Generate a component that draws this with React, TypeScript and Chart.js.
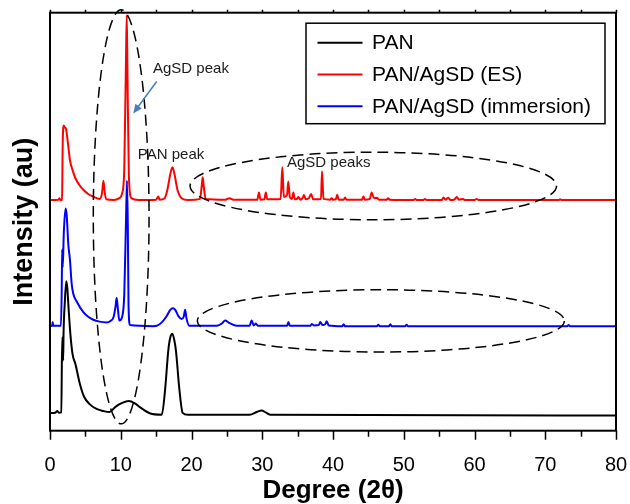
import React, { useEffect, useRef } from 'react';
import { Chart, registerables } from 'chart.js';
Chart.register(...registerables);

// ---- Data ----
const seriesLabels = ['PAN', 'PAN/AgSD (ES)', 'PAN/AgSD (immersion)'];
const seriesColors = ['#000000', '#ff0000', '#0000ff'];

const panX = [0, 0.8, 1.03, 1.25, 1.6, 1.72, 1.8, 1.86, 1.92, 2.1, 2.3, 2.45, 2.6, 2.9, 3.2, 3.6, 4.2, 4.8, 5.6, 6.5, 7.5, 8.4, 9.2, 10.2, 11.1, 12.0, 12.7, 14.1, 15.8, 16.26, 16.72, 17.0, 17.29, 17.55, 17.8, 18.28, 18.75, 19.5, 28.2, 29.3, 29.9, 30.5, 31.1, 80];
const panY = [0.06, 0.08, 0.12, 0.07, 0.08, 2.05, 1.9, 1.45, 2.2, 3.0, 3.53, 3.35, 2.9, 2.1, 1.6, 1.35, 0.85, 0.5, 0.3, 0.18, 0.12, 0.09, 0.22, 0.33, 0.38, 0.32, 0.22, 0.06, 0.02, 0.66, 1.71, 2.05, 2.15, 2.0, 1.71, 0.7, 0.07, 0.02, 0.02, 0.1, 0.13, 0.08, 0.02, 0.0];

const esX = [0, 1.2, 1.35, 1.45, 1.7, 1.8, 1.95, 2.1, 2.25, 2.45, 2.83, 3.2, 3.53, 4.1, 4.71, 5.4, 6.12, 7.0, 7.35, 7.55, 7.75, 7.95, 9.0, 9.8, 10.2, 10.5, 10.75, 10.85, 10.95, 11.15, 11.5, 12.5, 15.0, 15.3, 15.5, 16.2, 16.6, 17.0, 17.3, 17.6, 18.0, 18.6, 19.5, 21.2, 21.45, 21.58, 21.75, 22.0, 24.8, 25.35, 25.9, 29.3, 29.54, 29.75, 30.3, 30.5, 30.7, 32.6, 32.84, 33.05, 33.5, 33.68, 33.9, 34.2, 34.4, 34.6, 34.9, 35.1, 35.4, 35.7, 35.9, 36.15, 36.6, 36.9, 37.2, 38.3, 38.45, 38.65, 39.6, 39.8, 40.0, 40.4, 40.6, 40.8, 41.5, 41.7, 41.9, 44.1, 44.3, 44.5, 45.2, 45.47, 45.8, 46.2, 46.5, 47.6, 47.8, 48.0, 51.4, 51.6, 51.8, 52.8, 53.0, 53.2, 55.4, 55.6, 55.9, 56.3, 56.6, 57.2, 57.5, 57.8, 58.4, 58.6, 60.0, 60.3, 60.6, 71.9, 72.1, 72.3, 80];
const esY = [5.67, 5.68, 5.72, 5.67, 5.68, 7.2, 7.63, 7.58, 7.55, 7.3, 6.71, 6.45, 6.27, 6.08, 5.94, 5.83, 5.76, 5.7, 5.85, 6.18, 5.85, 5.69, 5.67, 5.72, 5.85, 6.5, 9.5, 10.53, 9.0, 6.3, 5.72, 5.67, 5.68, 5.76, 5.68, 5.72, 5.95, 6.35, 6.53, 6.35, 5.95, 5.72, 5.67, 5.7, 6.05, 6.27, 6.0, 5.7, 5.68, 5.72, 5.68, 5.68, 5.87, 5.68, 5.69, 5.87, 5.69, 5.7, 6.53, 5.75, 5.8, 6.16, 5.75, 5.7, 5.87, 5.69, 5.7, 5.75, 5.68, 5.72, 5.8, 5.69, 5.72, 5.83, 5.69, 5.7, 6.43, 5.7, 5.68, 5.72, 5.68, 5.69, 5.81, 5.68, 5.68, 5.74, 5.68, 5.68, 5.76, 5.68, 5.7, 5.87, 5.72, 5.73, 5.68, 5.68, 5.72, 5.68, 5.67, 5.7, 5.67, 5.67, 5.7, 5.67, 5.67, 5.74, 5.68, 5.73, 5.67, 5.69, 5.75, 5.68, 5.7, 5.67, 5.67, 5.7, 5.67, 5.67, 5.69, 5.67, 5.67];

const imX = [0, 0.3, 0.38, 0.45, 1.55, 1.65, 1.72, 1.8, 1.95, 2.2, 2.35, 2.59, 2.83, 3.06, 3.3, 3.77, 4.71, 5.4, 6.12, 7.0, 8.0, 8.5, 9.0, 9.25, 9.42, 9.6, 9.8, 10.2, 10.5, 10.75, 10.88, 11.0, 11.1, 11.3, 14.6, 15.1, 15.8, 16.5, 17.0, 17.35, 17.7, 18.2, 18.6, 18.9, 19.1, 19.3, 19.7, 23.6, 24.3, 24.75, 25.3, 26.4, 28.2, 28.5, 28.8, 29.1, 29.4, 33.5, 33.7, 33.9, 36.8, 37.0, 37.3, 38.0, 38.2, 38.5, 38.9, 39.1, 39.4, 41.3, 41.5, 41.7, 46.2, 46.4, 46.6, 47.9, 48.1, 48.3, 50.2, 50.4, 50.6, 73.1, 73.3, 73.5, 80];
const imY = [2.35, 2.36, 2.46, 2.36, 2.36, 3.2, 4.37, 3.9, 4.8, 5.45, 5.3, 4.5, 4.08, 3.47, 3.2, 3.0, 2.72, 2.6, 2.52, 2.47, 2.45, 2.48, 2.6, 2.85, 3.1, 2.8, 2.5, 2.6, 3.2, 5.2, 6.18, 5.0, 2.9, 2.38, 2.35, 2.36, 2.45, 2.62, 2.78, 2.82, 2.78, 2.6, 2.54, 2.6, 2.78, 2.55, 2.36, 2.36, 2.42, 2.5, 2.44, 2.36, 2.36, 2.5, 2.37, 2.42, 2.36, 2.36, 2.46, 2.36, 2.36, 2.41, 2.37, 2.38, 2.46, 2.38, 2.4, 2.48, 2.37, 2.35, 2.4, 2.35, 2.35, 2.39, 2.35, 2.35, 2.4, 2.35, 2.35, 2.39, 2.35, 2.35, 2.38, 2.35, 2.35];

// axis ranges / ticks
const xMin = 0, xMax = 80, xMajorStep = 10, xMinorStep = 5;
const yMin = -0.4, yMax = 10.6, yStep = 1;

// annotation shapes, in data units
const ellipses = [
  { cx: 10.06, cy: 5.23, rx: 3.94, ry: 5.45 },
  { cx: 45.7, cy: 6.04, rx: 25.9, ry: 0.89 },
  { cx: 46.76, cy: 2.49, rx: 25.94, ry: 0.82 },
];
const notes = [
  { text: 'AgSD peak', x: 14.56, y: 9.13 },
  { text: 'PAN peak', x: 12.42, y: 6.86 },
  { text: 'AgSD peaks', x: 33.5, y: 6.64 },
];
const arrow = { x1: 15.08, y1: 8.79, x2: 11.77, y2: 7.95 };

const FONT = "'Liberation Sans', Arial, Helvetica, sans-serif";

const decoPlugin = {
  id: 'deco',
  afterDraw(chart: any) {
    const { ctx, chartArea: ca, scales } = chart;
    const xs = scales.x, ys = scales.y;
    ctx.save();
    // frame
    ctx.strokeStyle = '#000';
    ctx.lineWidth = 2;
    ctx.setLineDash([]);
    ctx.strokeRect(ca.left, ca.top, ca.right - ca.left, ca.bottom - ca.top);
    // x ticks
    ctx.lineWidth = 1.5;
    for (let v = xMin; v <= xMax + 1e-9; v += xMinorStep) {
      const px = Math.round(xs.getPixelForValue(v)) + 0.5;
      const major = Math.abs(v % xMajorStep) < 1e-9;
      ctx.beginPath();
      ctx.moveTo(px, ca.bottom);
      ctx.lineTo(px, ca.bottom + (major ? 9 : 6));
      ctx.moveTo(px, ca.top);
      ctx.lineTo(px, ca.top - 3);
      ctx.stroke();
    }
    // y ticks
    ys.ticks.forEach((t: any) => {
      if (Math.abs(t.value - Math.round(t.value)) > 1e-6) return;
      const py = Math.round(ys.getPixelForValue(t.value)) + 0.5;
      ctx.beginPath();
      ctx.moveTo(ca.left, py);
      ctx.lineTo(ca.left + 4, py);
      ctx.moveTo(ca.right, py);
      ctx.lineTo(ca.right + 3, py);
      ctx.stroke();
    });
    // dashed ellipses
    ctx.setLineDash([11, 6]);
    ctx.lineWidth = 1.5;
    ctx.strokeStyle = '#000';
    ellipses.forEach((e) => {
      const cx = xs.getPixelForValue(e.cx);
      const cy = ys.getPixelForValue(e.cy);
      const rx = xs.getPixelForValue(e.cx + e.rx) - cx;
      const ry = cy - ys.getPixelForValue(e.cy + e.ry);
      ctx.beginPath();
      ctx.ellipse(cx, cy, rx, ry, 0, 0, Math.PI * 2);
      ctx.stroke();
    });
    ctx.setLineDash([]);
    // arrow
    const ax1 = xs.getPixelForValue(arrow.x1), ay1 = ys.getPixelForValue(arrow.y1);
    const ax2 = xs.getPixelForValue(arrow.x2), ay2 = ys.getPixelForValue(arrow.y2);
    const ang = Math.atan2(ay2 - ay1, ax2 - ax1);
    ctx.strokeStyle = '#4a7ebb';
    ctx.fillStyle = '#4a7ebb';
    ctx.lineWidth = 1.5;
    ctx.beginPath();
    ctx.moveTo(ax1, ay1);
    ctx.lineTo(ax2 - 6 * Math.cos(ang), ay2 - 6 * Math.sin(ang));
    ctx.stroke();
    ctx.beginPath();
    ctx.moveTo(ax2, ay2);
    ctx.lineTo(ax2 - 9 * Math.cos(ang) + 4 * Math.sin(ang), ay2 - 9 * Math.sin(ang) - 4 * Math.cos(ang));
    ctx.lineTo(ax2 - 9 * Math.cos(ang) - 4 * Math.sin(ang), ay2 - 9 * Math.sin(ang) + 4 * Math.cos(ang));
    ctx.closePath();
    ctx.fill();
    // notes
    ctx.fillStyle = '#1a1a1a';
    ctx.font = `15px ${FONT}`;
    ctx.textAlign = 'left';
    ctx.textBaseline = 'middle';
    notes.forEach((n) => {
      ctx.fillText(n.text, xs.getPixelForValue(n.x), ys.getPixelForValue(n.y));
    });
    // legend
    const bx = ca.right - 310, by = ca.top + 10.5, bw = 299, bh = 100.5;
    ctx.fillStyle = '#fff';
    ctx.fillRect(bx, by, bw, bh);
    ctx.strokeStyle = '#000';
    ctx.lineWidth = 1.5;
    ctx.strokeRect(bx, by, bw, bh);
    ctx.font = `21px ${FONT}`;
    ctx.textBaseline = 'middle';
    chart.data.datasets
      .map((d: any) => d)
      .sort((a: any, b: any) => a.legendIndex - b.legendIndex)
      .forEach((d: any, i: number) => {
        const ry = by + 19.5 + i * 31.8;
        ctx.strokeStyle = d.borderColor;
        ctx.lineWidth = 2;
        ctx.beginPath();
        ctx.moveTo(bx + 11.5, ry);
        ctx.lineTo(bx + 56.5, ry);
        ctx.stroke();
        ctx.fillStyle = '#000';
        ctx.fillText(d.label, bx + 66, ry + 0.5);
      });
    ctx.restore();
  },
};

function toPoints(xs: number[], ys: number[]) {
  return xs.map((x, i) => ({ x, y: ys[i] }));
}

export default function App() {
  const ref = useRef<HTMLCanvasElement | null>(null);
  useEffect(() => {
    if (!ref.current) return;
    const common = {
      pointRadius: 0,
      borderWidth: 2,
      fill: false,
      cubicInterpolationMode: 'monotone' as const,
    };
    const chart = new Chart(ref.current, {
      type: 'line',
      data: {
        datasets: [
          { ...common, label: seriesLabels[0], data: toPoints(panX, panY), borderColor: seriesColors[0], order: 1, legendIndex: 0 } as any,
          { ...common, label: seriesLabels[1], data: toPoints(esX, esY), borderColor: seriesColors[1], order: 2, legendIndex: 1 } as any,
          { ...common, label: seriesLabels[2], data: toPoints(imX, imY), borderColor: seriesColors[2], order: 0, legendIndex: 2 } as any,
        ],
      },
      options: {
        responsive: false,
        animation: false,
        layout: { padding: { top: 12.7, right: 14, bottom: 0, left: 0 } },
        plugins: { legend: { display: false }, tooltip: { enabled: false } },
        scales: {
          x: {
            type: 'linear',
            min: xMin,
            max: xMax,
            grid: { display: false },
            border: { display: false },
            ticks: {
              stepSize: xMajorStep,
              color: '#000',
              font: { family: FONT, size: 20 },
              padding: 15,
              maxRotation: 0,
            },
            title: {
              display: true,
              text: 'Degree (2θ)',
              color: '#000',
              font: { family: FONT, size: 26, weight: 'bold', lineHeight: 1 },
              padding: { top: 0, bottom: 0 },
            },
            afterFit(scale: any) {
              scale.height = 73.3;
              scale.paddingLeft = 0;
              scale.paddingRight = 0;
            },
          },
          y: {
            type: 'linear',
            min: yMin,
            max: yMax,
            grid: { display: false },
            border: { display: false },
            ticks: { display: false, stepSize: yStep },
            title: {
              display: true,
              text: 'Intensity (au)',
              color: '#000',
              font: { family: FONT, size: 27, weight: 'bold', lineHeight: 1 },
              padding: { top: 11, bottom: 0 },
            },
            afterFit(scale: any) {
              scale.width = 50;
              scale.paddingTop = 0;
              scale.paddingBottom = 0;
            },
          },
        },
      } as any,
      plugins: [decoPlugin],
    });
    return () => chart.destroy();
  }, []);
  return (
    <canvas
      ref={ref}
      width={630}
      height={504}
      style={{ position: 'fixed', left: 0, top: 0, display: 'block', background: '#fff' }}
    />
  );
}
